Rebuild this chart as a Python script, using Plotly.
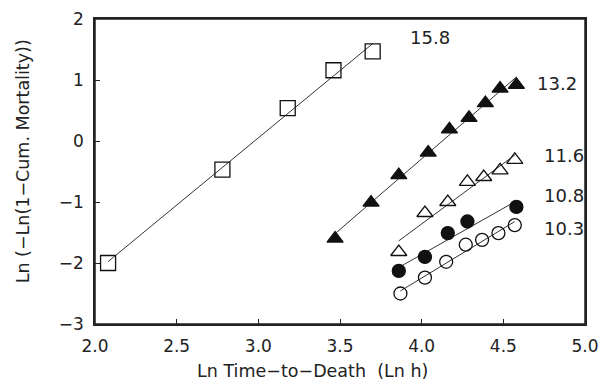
import numpy as np
import plotly.graph_objects as go

# Data
x_158 = [2.08, 2.78, 3.18, 3.46, 3.70]
y_158 = [-2.00, -0.47, 0.54, 1.16, 1.47]

x_132 = [3.47, 3.69, 3.86, 4.04, 4.17, 4.29, 4.39, 4.48, 4.58]
y_132 = [-1.60, -1.01, -0.56, -0.19, 0.19, 0.38, 0.62, 0.86, 0.92]

x_116 = [3.86, 4.02, 4.16, 4.28, 4.38, 4.48, 4.57]
y_116 = [-1.82, -1.18, -1.00, -0.67, -0.59, -0.48, -0.31]

x_108 = [3.86, 4.02, 4.16, 4.28, 4.58]
y_108 = [-2.13, -1.90, -1.51, -1.32, -1.08]

x_103 = [3.87, 4.02, 4.15, 4.27, 4.37, 4.47, 4.57]
y_103 = [-2.50, -2.24, -1.98, -1.70, -1.62, -1.51, -1.38]

labels = ["15.8", "13.2", "11.6", "10.8", "10.3"]
label_x = [4.05, 4.83, 4.87, 4.87, 4.87]
label_y = [1.69, 0.95, -0.23, -0.89, -1.43]

x_ticks = [2.0, 2.5, 3.0, 3.5, 4.0, 4.5, 5.0]
x_ticktext = ["2.0", "2.5", "3.0", "3.5", "4.0", "4.5", "5.0"]
y_ticks = [-3, -2, -1, 0, 1, 2]
y_ticktext = ["\u22123", "\u22122", "\u22121", "0", "1", "2"]

series = [
    (x_158, y_158, "square-open", 15),
    (x_132, y_132, "triangle-up", 14),
    (x_116, y_116, "triangle-up-open", 14),
    (x_108, y_108, "circle", 13),
    (x_103, y_103, "circle-open", 13),
]

FONT = "DejaVu Sans, Verdana, sans-serif"
INK = "#222"

fig = go.Figure()
for xs, ys, sym, sz in series:
    xs_a = np.array(xs)
    ys_a = np.array(ys)
    slope, icpt = np.polyfit(xs_a, ys_a, 1)
    fx = np.array([xs_a.min(), xs_a.max()])
    fig.add_trace(go.Scatter(x=fx, y=slope * fx + icpt, mode="lines",
                             line=dict(color="#333", width=1), showlegend=False,
                             hoverinfo="skip"))
    fig.add_trace(go.Scatter(x=xs, y=ys, mode="markers", showlegend=False,
                             marker=dict(symbol=sym, size=sz, color="#111",
                                         line=dict(color="#111", width=1.3))))

for t, lx, ly in zip(labels, label_x, label_y):
    fig.add_annotation(x=lx, y=ly, text=t, showarrow=False, xanchor="center",
                       yanchor="middle", font=dict(size=18, color=INK, family=FONT))

# axis titles
fig.add_annotation(xref="paper", yref="paper", x=0.443, y=-0.154,
                   text="Ln Time\u2212to\u2212Death  (Ln h)", showarrow=False,
                   xanchor="center", yanchor="middle",
                   font=dict(size=17.5, color=INK, family=FONT))
fig.add_annotation(xref="paper", yref="paper", x=-0.148, y=0.535,
                   text="Ln (\u2212Ln(1\u2212Cum. Mortality))", showarrow=False,
                   textangle=-90, xanchor="center", yanchor="middle",
                   font=dict(size=17.5, color=INK, family=FONT))

# plot frame
fig.add_shape(type="rect", xref="paper", yref="paper", x0=0, x1=1, y0=0, y1=1,
              line=dict(color=INK, width=1.5), fillcolor="rgba(0,0,0,0)", layer="above")

fig.update_layout(
    width=599, height=381,
    margin=dict(l=95, r=14, t=19, b=57),
    paper_bgcolor="white", plot_bgcolor="white",
    font=dict(family=FONT, color=INK),
)
fig.update_xaxes(range=[2.0, 5.0], tickvals=x_ticks, ticktext=x_ticktext,
                 ticks="inside", ticklen=5, tickcolor=INK, automargin=False,
                 showline=True, linecolor=INK, linewidth=1.5, mirror=True,
                 showgrid=False, zeroline=False, tickfont=dict(size=17),
                 ticklabelstandoff=6, ticklabeloverflow="allow")
fig.update_yaxes(range=[-3, 2], tickvals=y_ticks, ticktext=y_ticktext,
                 ticks="inside", ticklen=5, tickcolor=INK, automargin=False,
                 showline=True, linecolor=INK, linewidth=1.5, mirror=True,
                 showgrid=False, zeroline=False, tickfont=dict(size=17),
                 ticklabelstandoff=6, ticklabeloverflow="allow")

fig.write_html("out.html", config={"displayModeBar": False},
               post_script="document.body.style.margin='0';document.body.style.overflow='hidden';")
